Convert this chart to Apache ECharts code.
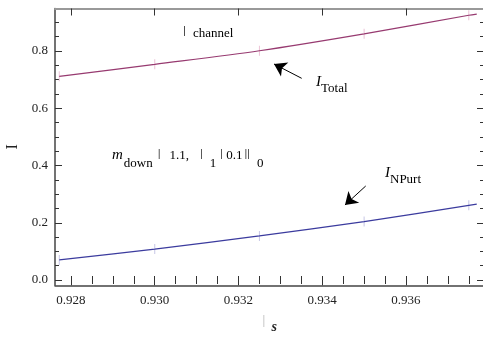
<!DOCTYPE html>
<html><head><meta charset="utf-8">
<script src="https://cdn.jsdelivr.net/npm/echarts@6/dist/echarts.min.js"></script>
<style>html,body{margin:0;padding:0;background:#fff}#c{width:483px;height:338px}</style>
</head><body><div id="c"></div>
<script>
// ---- data ----
const sValues = [0.92772, 0.9300, 0.9325, 0.9350, 0.9375, 0.93769];
const totalValues = [0.7115, 0.7535, 0.801, 0.860, 0.925, 0.929];
const npurtValues = [0.070, 0.108, 0.154, 0.204, 0.261, 0.265];
const markS = [0.92772, 0.9300, 0.9325, 0.9350, 0.9375];
const markTotal = [0.7115, 0.7535, 0.801, 0.860, 0.925];
const markNpurt = [0.070, 0.108, 0.154, 0.204, 0.261];
const xTickLabels = [0.928, 0.930, 0.932, 0.934, 0.936];
const xMinorTicks = [0.928,0.9285,0.929,0.9295,0.930,0.9305,0.931,0.9315,0.932,0.9325,0.933,0.9335,0.934,0.9345,0.935,0.9355,0.936,0.9365,0.937,0.9375];
const yTickLabels = [0.0, 0.2, 0.4, 0.6, 0.8];
const yMinorTicks = [0.0,0.05,0.1,0.15,0.2,0.25,0.3,0.35,0.4,0.45,0.5,0.55,0.6,0.65,0.7,0.75,0.8,0.85,0.9];
const xRange = [0.927618, 0.937863];
const yRange = [-0.0185, 0.9485];

const FONT = '"Liberation Serif", "DejaVu Serif", serif';
const TXT = '#222';
const chart = echarts.init(document.getElementById('c'), null, {renderer:'canvas'});

const gridBox = {left:55, right:-1, top:8.5, bottom:52.7, outerBoundsMode:'none', containLabel:false};
function xAx(grid, pos, opts){
  return Object.assign({type:'value', gridIndex:grid, position:pos, min:xRange[0], max:xRange[1],
    splitLine:{show:false}, axisLabel:{show:false}, axisLine:{show:false}}, opts);
}
function yAx(grid, pos, opts){
  return Object.assign({type:'value', gridIndex:grid, position:pos, min:yRange[0], max:yRange[1],
    splitLine:{show:false}, axisLabel:{show:false}, axisLine:{show:false}}, opts);
}
const tickStyle = {color:'#333', width:1};
const G = '#bbb';

const option = {
  animation:false,
  grid:[Object.assign({}, gridBox), Object.assign({}, gridBox)],
  xAxis:[
    xAx(0,'bottom',{
      axisLine:{show:true, onZero:false, lineStyle:{color:'#444', width:1.5}},
      axisTick:{show:true, inside:true, length:7, lineStyle:tickStyle, customValues:xTickLabels},
      axisLabel:{show:true, customValues:xTickLabels, margin:9, fontFamily:FONT, fontSize:13, color:TXT,
        formatter:v=>v.toFixed(3)},
      name:'{bar|ǀ}{s|s}', nameLocation:'middle', nameGap:29,
      nameTextStyle:{rich:{
        bar:{fontFamily:FONT, fontSize:16, color:G, padding:[0,6,5,0]},
        s:{fontFamily:FONT, fontSize:14, fontStyle:'italic', fontWeight:'bold', color:TXT, padding:[5,0,0,0]}}}
    }),
    xAx(0,'top',{
      axisLine:{show:true, onZero:false, lineStyle:{color:'#999', width:2}},
      axisTick:{show:true, inside:true, length:7, lineStyle:tickStyle, customValues:xTickLabels}
    }),
    xAx(1,'bottom',{axisTick:{show:true, inside:true, length:4, lineStyle:tickStyle, customValues:xMinorTicks}}),
    xAx(1,'top',{axisTick:{show:true, inside:true, length:4, lineStyle:tickStyle, customValues:xMinorTicks}})
  ],
  yAxis:[
    yAx(0,'left',{
      axisLine:{show:true, onZero:false, lineStyle:{color:'#444', width:1.5}},
      axisTick:{show:true, inside:true, length:7, lineStyle:tickStyle, customValues:yTickLabels},
      axisLabel:{show:true, customValues:yTickLabels, margin:7, fontFamily:FONT, fontSize:13, color:TXT,
        formatter:v=>v.toFixed(1)},
      name:'I', nameLocation:'middle', nameGap:30, nameRotate:90,
      nameTextStyle:{fontFamily:FONT, fontSize:16, color:TXT}
    }),
    yAx(0,'right',{
      axisTick:{show:true, inside:true, length:7, lineStyle:tickStyle, customValues:yTickLabels}
    }),
    yAx(1,'left',{axisTick:{show:true, inside:true, length:4, lineStyle:tickStyle, customValues:yMinorTicks}}),
    yAx(1,'right',{axisTick:{show:true, inside:true, length:4, lineStyle:tickStyle, customValues:yMinorTicks}})
  ],
  series:[
    {type:'scatter', xAxisIndex:0, yAxisIndex:0, symbol:'rect', symbolSize:[1,10], silent:true,
      itemStyle:{color:'#e6b3cc'}, data:markS.map((s,i)=>[s, markTotal[i]])},
    {type:'scatter', xAxisIndex:0, yAxisIndex:0, symbol:'rect', symbolSize:[1,10], silent:true,
      itemStyle:{color:'#b8b8e0'}, data:markS.map((s,i)=>[s, markNpurt[i]])},
    {type:'line', name:'Total', xAxisIndex:0, yAxisIndex:0, smooth:0.3, showSymbol:false, silent:true,
      lineStyle:{color:'#973a70', width:1.2}, data:sValues.map((s,i)=>[s, totalValues[i]]),
      markLine:{silent:true, symbol:['none','arrow'], symbolSize:12, label:{show:false},
        lineStyle:{color:'#000', width:1, type:'solid'}, emphasis:{disabled:true},
        data:[[{coord:[0.933509,0.7046]},{coord:[0.932848,0.7546]}]]}},
    {type:'line', name:'NPurt', xAxisIndex:0, yAxisIndex:0, smooth:0.3, showSymbol:false, silent:true,
      lineStyle:{color:'#3b3b9e', width:1.2}, data:sValues.map((s,i)=>[s, npurtValues[i]]),
      markLine:{silent:true, symbol:['none','arrow'], symbolSize:12, label:{show:false},
        lineStyle:{color:'#000', width:1, type:'solid'}, emphasis:{disabled:true},
        data:[[{coord:[0.935038,0.3284]},{coord:[0.934543,0.262]}]]}}
  ],
  graphic:[
    {type:'text', left:183, top:25, style:{text:'{bar|ǀ}{t|channel}', rich:{
      bar:{fontFamily:FONT, fontSize:15, color:G, padding:[0,7,0,0]},
      t:{fontFamily:FONT, fontSize:13, color:TXT, padding:[3,0,0,0]}}}},
    {type:'text', left:112, top:148, style:{
      text:'{mi|m}{sub|down}{b1|ǀ}{n1|1.1,}{b2|ǀ}{s1|1}{b3|ǀ}{n2|0.1}{b4|ǀǀ}{s2|0}',
      rich:{
        mi:{fontFamily:FONT, fontSize:15, fontStyle:'italic', color:TXT, padding:[0,0,8,0]},
        sub:{fontFamily:FONT, fontSize:13, color:TXT, padding:[8,0,0,1]},
        b1:{fontFamily:FONT, fontSize:14, color:G, padding:[0,0,8,5]},
        n1:{fontFamily:FONT, fontSize:13, color:TXT, padding:[0,0,8,9]},
        b2:{fontFamily:FONT, fontSize:14, color:G, padding:[0,0,8,11]},
        s1:{fontFamily:FONT, fontSize:13, color:TXT, padding:[8,0,0,7]},
        b3:{fontFamily:FONT, fontSize:14, color:G, padding:[0,0,8,4]},
        n2:{fontFamily:FONT, fontSize:13, color:TXT, padding:[0,0,8,3]},
        b4:{fontFamily:FONT, fontSize:14, color:G, padding:[0,0,8,2]},
        s2:{fontFamily:FONT, fontSize:13, color:TXT, padding:[8,0,0,7]}
      }}},
    {type:'text', left:316, top:75, style:{text:'{i|I}{sub|Total}', rich:{
      i:{fontFamily:FONT, fontSize:15, fontStyle:'italic', color:TXT, padding:[0,0,6,0]},
      sub:{fontFamily:FONT, fontSize:13, color:TXT, padding:[6,0,0,0]}}}},
    {type:'text', left:385, top:166, style:{text:'{i|I}{sub|NPurt}', rich:{
      i:{fontFamily:FONT, fontSize:15, fontStyle:'italic', color:TXT, padding:[0,0,6,0]},
      sub:{fontFamily:FONT, fontSize:13, color:TXT, padding:[6,0,0,0]}}}}
  ]
};
chart.setOption(option);
</script></body></html>
